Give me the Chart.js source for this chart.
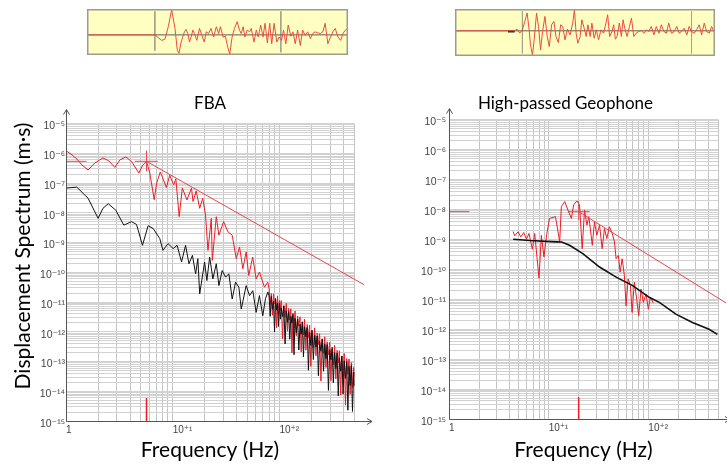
<!DOCTYPE html>
<html><head><meta charset="utf-8">
<script src="https://cdn.jsdelivr.net/npm/chart.js@4.4.1/dist/chart.umd.min.js"></script>
<style>
html,body{margin:0;padding:0;background:#fff;}
body{width:727px;height:464px;position:relative;overflow:hidden;}
canvas{position:absolute;}
#ytitle{position:absolute;left:-128px;top:243px;width:300px;height:26px;line-height:26px;text-align:center;
 font-family:Lato,'Open Sans',sans-serif;font-size:21px;color:#000;white-space:nowrap;transform:rotate(-90deg);}
</style></head>
<body>
<canvas id="insetL" width="261" height="46" style="left:87px;top:9px"></canvas>
<canvas id="insetR" width="260" height="47" style="left:455px;top:9px"></canvas>
<canvas id="fba" width="380" height="379" style="left:0px;top:85px"></canvas>
<canvas id="geo" width="314" height="379" style="left:413px;top:85px"></canvas>
<div id="ytitle">Displacement Spectrum (m·s)</div>
<script>
// ---------- tick labels ----------
const xGridValues = [1,2,3,4,5,6,7,8,9,10,20,30,40,50,60,70,80,90,100,200,300,400,500];
const xLabelValues = [1, 10, 100];
const xTickLabels = ['1', '10⁺¹', '10⁺²'];
const yDecades = [-15,-14,-13,-12,-11,-10,-9,-8,-7,-6,-5];
const yTickLabels = ['10⁻¹⁵','10⁻¹⁴','10⁻¹³','10⁻¹²','10⁻¹¹','10⁻¹⁰','10⁻⁹','10⁻⁸','10⁻⁷','10⁻⁶','10⁻⁵'];

// ---------- FBA spectra (Hz, m·s) ----------
const fbaRedLowFreq = [1,1.14,1.29,1.41,1.61,1.87,2.22,2.52,2.87,3.20,3.64,4.14,4.81,5.25,5.68,6.10,6.71,7.08,7.64,8.07,8.73,9.37,10.2,10.7,11.5,12.3,13.6,15.0,15.5,16.6,17.9,19.1,20.3,21.4,23.0,23.5,25.6,27.1,30.0,32.9,36.1,39.4,42.3,45.4,48.8,51.6,56.2,60.5,65.0,72.4,77.8];
const fbaRedLowAmp = [1.22e-6,8.9e-7,6.0e-7,4.07e-7,2.76e-7,4.76e-7,7.03e-7,5.57e-7,3.35e-7,6.0e-7,7.6e-7,5.15e-7,2.18e-7,4.07e-7,5.36e-7,2.18e-7,2.76e-8,1.0e-7,2.36e-7,1.48e-7,7.03e-8,1.82e-7,8.75e-8,1.40e-7,7.43e-9,6.78e-8,2.72e-8,6.78e-8,2.40e-8,5.48e-8,1.42e-8,3.10e-8,8.41e-9,5.48e-10,6.52e-9,2.51e-10,7.43e-9,1.77e-9,5.04e-9,2.31e-9,1.77e-9,2.87e-10,7.14e-10,1.32e-10,4.84e-10,7.8e-11,3.27e-10,6.0e-11,1.02e-10,3.15e-11,4.66e-11];
const fbaHighFreq = [80,82,84,86,88,90,92,94,96,98,100,102,104,107,110,113,116,119,122,125,128,131,134,137,140,144,148,152,156,160,164,168,172,177,182,187,192,197,202,208,214,220,226,232,238,245,252,259,266,273,280,288,296,304,312,320,329,338,347,356,365,375,385,395,405,416,427,438,449,460,472,484,496,500];
const fbaRedHighAmp = [2.82e-11,8.3e-12,1.94e-11,3.6e-12,1.89e-11,8.8e-12,1.30e-11,1.37e-12,1.61e-11,3.8e-12,
 1.13e-11,5.3e-12,1.12e-11,5.8e-13,7.5e-12,3.1e-12,9.0e-12,1.04e-12,6.1e-12,2.5e-12,
 5.9e-12,1.95e-13,3.6e-12,1.34e-12,5.0e-12,7.3e-13,3.35e-12,1.54e-12,3.2e-12,2.1e-13,
 2.16e-12,8.0e-13,2.63e-12,2.4e-13,1.76e-12,6.4e-13,1.68e-12,6.9e-14,1.01e-12,2.9e-13,
 1.35e-12,1.56e-13,9.0e-13,3.7e-13,8.6e-13,2.2e-14,5.7e-13,1.87e-13,6.8e-13,6.3e-14,
 4.6e-13,1.69e-13,4.4e-13,2.26e-14,2.6e-13,7.7e-14,3.5e-13,2.6e-14,2.4e-13,8.8e-14,
 2.3e-13,7.5e-15,1.54e-13,3.2e-14,1.86e-13,3.4e-15,1.26e-13,3.7e-14,1.21e-13,7.9e-15,
 9.2e-14,1.34e-14,6.3e-14,3.1e-14];
const fbaBlackLowFreq = [1,1.26,1.61,2.0,2.22,2.49,2.93,3.48,4.11,4.58,5.21,5.88,6.55,7.56,8.11,9.04,10.1,11.0,12.1,13.2,14.2,15.3,16.4,17.2,17.9,19.9,20.9,22.2,23.8,25.6,27.1,29.1,31.3,33.6,36.1,38.8,41.7,43.9,48.8,52.5,56.3,60.5,65.0,69.8,74,78];
const fbaBlackLowAmp = [6.78e-8,7.31e-8,3.10e-8,6.52e-9,1.42e-8,2.02e-8,1.22e-8,3.85e-9,5.04e-9,4.07e-9,8.09e-10,3.68e-9,2.99e-9,1.37e-9,5.48e-10,9.25e-10,6.27e-10,8.09e-10,2.22e-10,8.09e-10,1.94e-10,3.71e-10,8.89e-11,2.87e-10,1.87e-11,2.22e-10,5.27e-11,3.27e-10,6.03e-11,1.94e-10,3.57e-11,1.15e-10,6.87e-11,8.89e-11,1.26e-11,4.66e-11,3.15e-11,5.79e-12,3.57e-11,1.64e-11,2.42e-11,4.48e-12,1.64e-11,3.44e-12,1.29e-11,2.19e-11];
const fbaBlackHighAmp = [1.60e-11,3.3e-12,1.54e-11,5.7e-12,1.06e-11,9.9e-13,1.30e-11,5.4e-12,9.1e-12,1.51e-12,
 9.0e-12,2.65e-12,6.3e-12,3.25e-12,7.5e-12,3.9e-13,5.1e-12,2.07e-12,4.8e-12,5.6e-13,
 3.3e-12,1.95e-12,4.1e-12,1.69e-13,2.8e-12,9.2e-13,2.66e-12,2.44e-13,1.79e-12,8.3e-13,
 2.16e-12,1.43e-13,1.48e-12,6.8e-13,1.40e-12,5.1e-14,9.4e-13,3.5e-13,1.14e-12,1.16e-13,
 7.6e-13,3.1e-13,7.2e-13,3.3e-14,4.8e-13,2.2e-13,5.7e-13,4.7e-14,3.8e-13,1.26e-13,
 3.7e-13,1.07e-14,2.5e-13,1.14e-13,3.0e-13,1.93e-14,2.0e-13,5.8e-14,1.90e-13,7.0e-15,
 1.29e-13,4.7e-14,1.54e-13,8.0e-15,1.05e-13,2.7e-14,1.0e-13,2.3e-15,6.8e-14,1.57e-14,
 7.3e-14,2.1e-15,4.4e-14,1.53e-14];
// FBA source model lines
const fbaPlateauFreq = [1, 1.56];     const fbaPlateauAmp = [5.4e-7, 5.4e-7];
const fbaCrossHFreq  = [4.41, 7.24];  const fbaCrossHAmp  = [5.4e-7, 5.4e-7];
const fbaCrossVFreq  = [5.68, 5.68];  const fbaCrossVAmp  = [2.49e-7, 1.24e-6];
const fbaSlopeFreq   = [5.68, 623];   const fbaSlopeAmp   = [5.4e-7, 3.8e-11];
const fbaMarkFreq    = [5.68, 5.68];  const fbaMarkAmp    = [1e-15, 5.9e-15];

// ---------- High-passed geophone spectra ----------
const geoRedFreq = [4.40,4.57,4.93,5.25,5.62,5.98,6.35,6.87,7.24,8.0,8.45,8.97,9.55,10.2,11.7,12.9,13.4,14.5,15.6,16.9,17.8,19.2,20.4,21.7,22.9,24.2,25.3,27.4,28.8,30.4,32.4,34.4,36.3,38.3,40.7,43.4,45.7,47.5,50.1,52.1,54.6,57.5,59.8,62.7,66.1,68.7,72.4,76.4,80.0,84.5,89.1,94.8,100,105,112];
const geoRedAmp = [1.83e-9,1.31e-9,1.79e-9,1.21e-9,1.69e-9,1.01e-9,1.57e-9,4.64e-10,1.57e-9,5.06e-11,1.37e-9,2.58e-10,1.45e-9,5.01e-9,5.73e-9,8.24e-10,1.24e-8,1.83e-8,9.55e-9,5.01e-9,1.41e-8,1.92e-8,1.41e-8,4.90e-10,9.55e-9,2.99e-9,5.73e-9,6.32e-10,3.88e-9,1.37e-9,2.99e-9,4.90e-10,2.31e-9,1.06e-9,2.64e-9,1.57e-9,8.24e-10,2.26e-10,2.92e-10,8.05e-11,2.26e-10,6.18e-11,6.04e-12,4.79e-11,2.85e-11,3.62e-12,3.71e-11,1.02e-11,2.78e-12,2.20e-11,7.87e-12,1.50e-11,4.68e-12,1.19e-11,7.45e-12];
const geoBlackFreq = [4.40,6.46,11.9,13.5,16.2,22.0,32.4,47.5,69.7,102,129,189,277,407,493];
const geoBlackAmp = [1.01e-9,9.12e-10,8.24e-10,8.13e-10,6.32e-10,3.33e-10,1.19e-10,5.46e-11,2.85e-11,1.16e-11,7.87e-12,3.18e-12,1.67e-12,9.93e-13,6.73e-13];
const geoPlateauFreq = [1, 1.6];      const geoPlateauAmp = [8.4e-9, 8.4e-9];
const geoCrossHFreq  = [15.6, 25.7];  const geoCrossHAmp  = [8.4e-9, 8.4e-9];
const geoCrossVFreq  = [20, 20];      const geoCrossVAmp  = [4.4e-9, 1.92e-8];
const geoSlopeFreq   = [20, 603];     const geoSlopeAmp   = [8.4e-9, 7.5e-12];
const geoMarkFreq    = [20, 20];      const geoMarkAmp    = [1e-15, 5.4e-15];

// ---------- inset waveforms (arbitrary time / amplitude units) ----------
const leftWaveT = [8.3,28.5,29.5,30.5,31.5,32.5,33.5,34.5,35.2,35.7,36.2,36.8,37.3,37.8,38.3,38.8,39.3,39.8,40.3,41.0,41.8,42.5,43.2,43.8,44.5,45.2,46.0,46.8,47.5,48.0,48.8,49.5,50.2,50.8,51.5,52.2,53.0,53.7,54.2,54.8,55.3,56.0,56.7,57.2,58.0,58.7,59.3,60.0,60.7,61.3,62.0,62.7,63.3,64.0,64.8,65.5,66.2,66.8,67.5,68.2,69.0,69.6,70.3,71.0,71.8,72.5,73.2,74.0,74.8,75.5,76.2,77.0,77.8,78.5,79.2,80.0,80.8,81.5,82.2,83.0,83.8,84.5,85.2,86.0];
const leftWaveA = [0,0,-0.8,-1.6,-1.3,2.4,7.4,1.9,-4.6,-5.4,-2.6,-0.6,0.9,1.6,0.4,-2.1,-0.6,1.4,0.4,-1.6,1.9,-0.1,-2.1,0.9,0.4,1.9,-0.6,2.4,0.4,2.4,-0.6,-0.4,-3.6,-5.6,-0.6,1.9,3.9,1.4,0.4,2.4,-0.6,1.4,0.9,1.9,-2.1,1.4,-0.6,2.9,-0.6,3.4,-2.4,3.4,-2.6,3.4,-2.1,-0.6,-1.6,1.4,-2.6,2.9,-0.4,0.9,-2.6,1.4,-3.1,1.4,-0.1,0.9,-1.1,0.4,0.9,0.6,0.4,0.9,3.4,-2.6,-0.6,0.9,1.9,-0.6,-1.6,0.4,1.4,1.9];
const leftMarkT = [28.5, 66.0];
const leftMarkTop = [6.9, 6.9];
const leftMarkBottom = [-4.6, -5.1];
const rightWaveT = [4.7,20.5,22.5,23.2,24.0,24.8,25.5,26.2,26.8,27.2,27.8,28.3,29.0,29.6,30.2,30.8,31.5,32.2,32.8,33.5,34.2,34.8,35.5,36.2,36.8,37.5,38.2,39.0,39.8,40.3,40.8,41.3,42.0,42.5,43.2,43.8,44.3,45.0,45.5,46.2,46.8,47.5,48.2,49.0,49.7,50.2,50.8,51.5,52.0,52.5,53.0,53.7,54.3,54.8,55.3,56.0,56.7,57.3,58.0,58.7,59.5,60.2,61.0,61.8,62.5,63.2,64.0,64.7,65.5,66.2,67.0,67.7,68.4,69.2,70.0,70.8,71.5,72.2,73.0,73.8,74.5,75.2,76.0,76.7,77.5,78.2,79.0,79.7,80.5,81.2,82.0];
const rightWaveA = [0,0,0,0.5,-0.7,0.3,2.8,5.3,0.3,-4.2,-7.2,-2.7,5.3,1.3,-5.7,-0.2,4.3,-1.7,-4.7,1.8,2.8,-1.7,-3.5,1.8,1.3,-2.7,0.5,-1.2,2.3,6.3,-0.7,-3.7,-1.7,3.3,0.8,-1.7,1.8,-1.7,2.3,-2.2,0.3,-2.7,0.3,-0.7,2.3,4.8,-1.7,-0.2,1.8,-2.5,-1.7,2.3,-1.7,3.3,0.8,-1.7,1.3,3.8,-1.7,-0.7,-0.2,0.1,-0.7,0.3,-0.2,1.3,-1.2,1.3,-0.7,1.8,-0.2,-0.7,2.3,-0.7,-0.2,1.3,-0.7,-0.2,0.8,-1.2,1.3,-0.2,-0.7,0.3,1.8,-1.2,2.3,-0.2,-0.7,1.3,-0.5];
const rightOnsetT = [20.5, 22.5];
const rightOnsetA = [-0.2, -0.2];
const rightMarkT = [24.8, 75.2];
const rightMarkTop = [5.8, 5.8];
const rightMarkBottom = [-6.7, -6.7];

// ---------- helpers ----------
const TITLE_FONT = "Lato, 'Open Sans', sans-serif";
const TICK_FONT = "'Liberation Sans', 'DejaVu Sans', sans-serif";
const RED = '#EE1C25', SLOPE = '#E8464E', BLACK = '#111111';
const xy = (xs, ys) => xs.map((v, i) => ({x: v, y: ys[i]}));
const yGridValues = [];
yDecades.forEach((e, k) => {
  if (k === yDecades.length - 1) { yGridValues.push(Math.pow(10, e)); return; }
  for (let m = 1; m <= 9; m++) yGridValues.push(m * Math.pow(10, e));
});
function yLabel(v) {
  const l = Math.log10(v), r = Math.round(l);
  if (Math.abs(l - r) > 1e-6) return '';
  const i = yDecades.indexOf(r);
  return i >= 0 ? yTickLabels[i] : '';
}
function xLabel(v) {
  const i = xLabelValues.findIndex(a => Math.abs(a - v) < 1e-9);
  return i >= 0 ? xTickLabels[i] : '';
}
function ds(data, color, width, order) {
  return {data, borderColor: color, backgroundColor: color, borderWidth: width, pointRadius: 0, tension: 0, clip: false, order};
}

const axisArrows = {
  id: 'axisArrows',
  afterDatasetsDraw(chart, args, opts) {
    const {ctx, chartArea: a} = chart;
    const L = Math.round(a.left) + 0.5, B = Math.round(a.bottom) + 0.5;
    const T = a.top - opts.up, R = a.right + opts.right;
    ctx.save();
    ctx.strokeStyle = '#555'; ctx.lineWidth = 1;
    ctx.beginPath();
    ctx.moveTo(L, B); ctx.lineTo(L, T);
    ctx.moveTo(L, B); ctx.lineTo(R, B);
    ctx.moveTo(L - 3, T + 5); ctx.lineTo(L, T); ctx.lineTo(L + 3, T + 5);
    ctx.moveTo(R - 5, B - 3); ctx.lineTo(R, B); ctx.lineTo(R - 5, B + 3);
    ctx.stroke();
    ctx.restore();
  }
};

function mainChart(id, o) {
  return new Chart(document.getElementById(id), {
    type: 'line',
    data: {datasets: o.datasets},
    options: {
      responsive: false, animation: false, events: [],
      layout: {padding: {left: 0, right: o.padRight, top: 0, bottom: 0}},
      plugins: {
        legend: {display: false}, tooltip: {enabled: false},
        title: {display: true, text: o.title, fullSize: o.titleFull, color: '#000',
                font: {family: TITLE_FONT, size: 17, weight: 'normal'},
                padding: {top: o.tTop, bottom: o.tBottom}},
        axisArrows: {up: o.up, right: o.arrowRight}
      },
      scales: {
        x: {
          type: 'logarithmic', min: 1, max: 500,
          afterBuildTicks: s => { s.ticks = xGridValues.map(v => ({value: v})); },
          afterFit: s => { s.height = o.xHeight; },
          grid: {color: '#C4C4C4', lineWidth: 1, drawTicks: false},
          border: {display: false},
          ticks: {autoSkip: false, maxRotation: 0, minRotation: 0, align: 'start', padding: 3,
                  color: '#444', font: {family: TICK_FONT, size: 10}, callback: v => xLabel(v)},
          title: {display: true, text: 'Frequency (Hz)', color: '#000',
                  font: {family: TITLE_FONT, size: 21}, padding: {top: 0, bottom: 1.4}}
        },
        y: {
          type: 'logarithmic', min: 1e-15, max: 1e-5,
          afterBuildTicks: s => { s.ticks = yGridValues.map(v => ({value: v})); },
          afterFit: s => { s.width = o.yWidth; },
          grid: {color: '#D2D2D2', lineWidth: 1, drawTicks: false},
          border: {display: false},
          ticks: {autoSkip: false, padding: o.yPad, labelOffset: 3, color: '#444',
                  font: {family: TICK_FONT, size: 10.5}, callback: v => yLabel(v)}
        }
      }
    },
    plugins: [axisArrows]
  });
}

mainChart('fba', {
  title: 'FBA', titleFull: false, tTop: 8.6, tBottom: 9.6,
  padRight: 26, yWidth: 66, xHeight: 43, yPad: 1, up: 14, arrowRight: 18,
  datasets: [
    ds(xy(fbaRedLowFreq.concat(fbaHighFreq), fbaRedLowAmp.concat(fbaRedHighAmp)), RED, 1, 3),
    ds(xy(fbaBlackLowFreq.concat(fbaHighFreq), fbaBlackLowAmp.concat(fbaBlackHighAmp)), BLACK, 1, 2),
    ds(xy(fbaPlateauFreq, fbaPlateauAmp), SLOPE, 1, 1),
    ds(xy(fbaCrossHFreq, fbaCrossHAmp), SLOPE, 1, 1),
    ds(xy(fbaCrossVFreq, fbaCrossVAmp), SLOPE, 1, 1),
    ds(xy(fbaSlopeFreq, fbaSlopeAmp), SLOPE, 1, 1),
    ds(xy(fbaMarkFreq, fbaMarkAmp), RED, 1.5, 1)
  ]
});

mainChart('geo', {
  title: 'High-passed Geophone', titleFull: true, tTop: 8.6, tBottom: 5.6,
  padRight: 9, yWidth: 36, xHeight: 45, yPad: 3, up: 11, arrowRight: 12,
  datasets: [
    ds(xy(geoRedFreq, geoRedAmp), RED, 1, 3),
    ds(xy(geoBlackFreq, geoBlackAmp), BLACK, 1.6, 2),
    ds(xy(geoPlateauFreq, geoPlateauAmp), SLOPE, 1, 1),
    ds(xy(geoCrossHFreq, geoCrossHAmp), SLOPE, 1, 1),
    ds(xy(geoCrossVFreq, geoCrossVAmp), SLOPE, 1, 1),
    ds(xy(geoSlopeFreq, geoSlopeAmp), SLOPE, 1, 1),
    ds(xy(geoMarkFreq, geoMarkAmp), RED, 1.5, 1)
  ]
});

// ---------- insets ----------
const insetFrame = {
  id: 'insetFrame',
  beforeDatasetsDraw(chart) {
    const {ctx, chartArea: a} = chart;
    ctx.save(); ctx.fillStyle = '#FFFFC2'; ctx.fillRect(a.left, a.top, a.width, a.height); ctx.restore();
  },
  afterDatasetsDraw(chart) {
    const {ctx, chartArea: a} = chart;
    ctx.save(); ctx.strokeStyle = '#9C9C8C'; ctx.lineWidth = 1.5;
    ctx.strokeRect(a.left + 0.75, a.top + 0.75, a.width - 1.5, a.height - 1.5); ctx.restore();
  }
};
function inset(id, o) {
  const marks = o.markT.map((t, i) => ds(xy([t, t], [o.markTop[i], o.markBottom[i]]), '#A3A38A', 1, 4));
  return new Chart(document.getElementById(id), {
    type: 'line',
    data: {datasets: [
      ds(xy([o.xmin, o.xmax], [0, 0]), '#5A5A5A', 1, 3),
      ...marks,
      ...(o.extra || []),
      ds(xy(o.t, o.a), '#EE4A45', 1, 1)
    ]},
    options: {
      responsive: false, animation: false, events: [],
      layout: {padding: 0},
      plugins: {legend: {display: false}, tooltip: {enabled: false}},
      scales: {
        x: {type: 'linear', min: o.xmin, max: o.xmax, display: false},
        y: {type: 'linear', min: o.ymin, max: o.ymax, display: false}
      }
    },
    plugins: [insetFrame]
  });
}
inset('insetL', {t: leftWaveT, a: leftWaveA, markT: leftMarkT, markTop: leftMarkTop, markBottom: leftMarkBottom,
  xmin: 8.3, xmax: 86.0, ymin: -5.9, ymax: 7.6});
inset('insetR', {t: rightWaveT, a: rightWaveA, markT: rightMarkT, markTop: rightMarkTop, markBottom: rightMarkBottom,
  xmin: 4.7, xmax: 82.2, ymin: -7.5, ymax: 6.5,
  extra: [ds(xy(rightOnsetT, rightOnsetA), '#222', 2, 2)]});
</script>
</body></html>
